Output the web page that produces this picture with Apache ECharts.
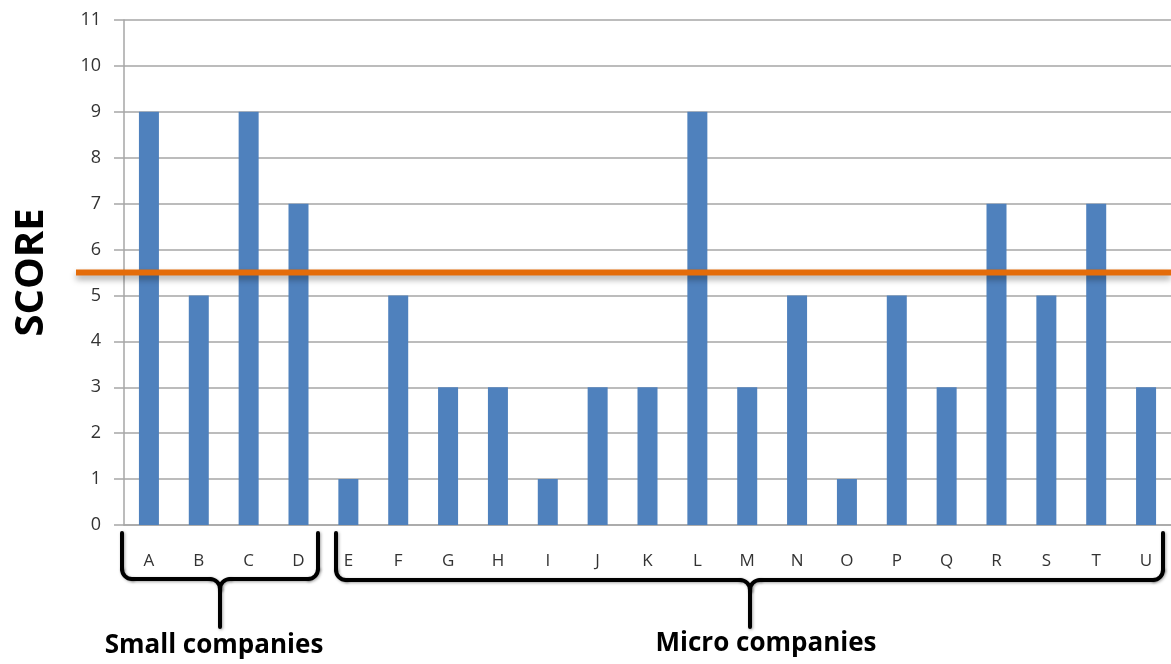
<!DOCTYPE html>
<html>
<head>
<meta charset="utf-8">
<script src="https://cdn.jsdelivr.net/npm/echarts@6/dist/echarts.min.js"></script>
<style>
  html, body { margin: 0; padding: 0; background: #fff; }
  #chart { width: 1171px; height: 664px; }
</style>
</head>
<body>
<div id="chart"></div>
<script>
// Company scores
const companies = ['A','B','C','D','E','F','G','H','I','J','K','L','M','N','O','P','Q','R','S','T','U'];
const scores = [9, 5, 9, 7, 1, 5, 3, 3, 1, 3, 3, 9, 3, 5, 1, 5, 3, 7, 5, 7, 3];
const threshold = 5.5;
const groupLabels = ['Small companies', 'Micro companies'];

const chart = echarts.init(document.getElementById('chart'), null, { renderer: 'canvas' });

const labelColor = '#333333';
const gridColor = '#a6a6a6';

chart.setOption({
  animation: false,
  grid: { left: 124, top: 20, width: 1050, height: 505, containLabel: false },
  xAxis: {
    type: 'category',
    data: companies,
    axisLine: { show: true, lineStyle: { color: gridColor, width: 1.5 } },
    axisTick: { show: false },
    axisLabel: { color: labelColor, fontFamily: 'Open Sans', fontSize: 17, margin: 28 }
  },
  yAxis: {
    type: 'value',
    min: 0, max: 11, interval: 1,
    name: 'SCORE',
    nameLocation: 'middle',
    nameRotate: 90,
    nameGap: 72,
    nameTextStyle: { fontFamily: 'Open Sans', fontWeight: 'bold', fontSize: 40, color: '#000' },
    axisLine: { show: true, lineStyle: { color: gridColor, width: 1.5 } },
    axisTick: { show: true, length: 10, lineStyle: { color: gridColor, width: 1.5 } },
    axisLabel: { color: labelColor, fontFamily: 'Open Sans', fontSize: 18, margin: 23 },
    splitLine: { show: true, lineStyle: { color: gridColor, width: 1.5 } }
  },
  series: [{
    type: 'bar',
    data: scores,
    barWidth: 20,
    itemStyle: { color: '#4f81bd' }
  }]
});

// Threshold line, extended across the plot and past the axis, with a soft shadow
const yT = chart.convertToPixel({ yAxisIndex: 0 }, threshold);

const braceStyle = { stroke: '#000', lineWidth: 4, fill: null, lineCap: 'round',
  shadowBlur: 3, shadowColor: 'rgba(0,0,0,0.35)', shadowOffsetX: 1, shadowOffsetY: 1 };

// Curly brace built from straight segments and quarter arcs
function brace(x1, x2, xm, yTop, yBar, yTip) {
  const r = 10;
  const P = Math.PI;
  const ln = (a, b, c, d) => ({ type: 'line', z: 100, shape: { x1: a, y1: b, x2: c, y2: d }, style: braceStyle });
  const arc = (cx, cy, s, e) => ({ type: 'arc', z: 100, shape: { cx: cx, cy: cy, r: r, startAngle: s, endAngle: e, clockwise: true }, style: braceStyle });
  return [
    ln(x1, yTop, x1, yBar - r),
    arc(x1 + r, yBar - r, P / 2, P),
    ln(x1 + r, yBar, xm - r, yBar),
    arc(xm - r, yBar + r, -P / 2, 0),
    ln(xm, yBar + r, xm, yTip),
    arc(xm + r, yBar + r, P, 1.5 * P),
    ln(xm + r, yBar, x2 - r, yBar),
    arc(x2 - r, yBar - r, 0, P / 2),
    ln(x2, yBar - r, x2, yTop)
  ];
}

const groupTextStyle = { fontFamily: 'Open Sans', fontWeight: 'bold', fontSize: 26,
  fill: '#000', align: 'center', verticalAlign: 'middle' };

chart.setOption({
  graphic: [
    {
      type: 'line', z: 100,
      shape: { x1: 76, y1: yT, x2: 1171, y2: yT },
      style: { stroke: '#e46c0a', lineWidth: 6,
        shadowBlur: 6, shadowColor: 'rgba(0,0,0,0.35)', shadowOffsetY: 4 }
    }
  ].concat(
    brace(122, 318, 220, 533, 579, 627),
    brace(336, 1163, 750, 533, 580, 627),
    [
      { type: 'text', z: 100, x: 214, y: 646, style: Object.assign({ text: groupLabels[0] }, groupTextStyle) },
      { type: 'text', z: 100, x: 766, y: 644, style: Object.assign({ text: groupLabels[1] }, groupTextStyle) }
    ]
  )
});
</script>
</body>
</html>
